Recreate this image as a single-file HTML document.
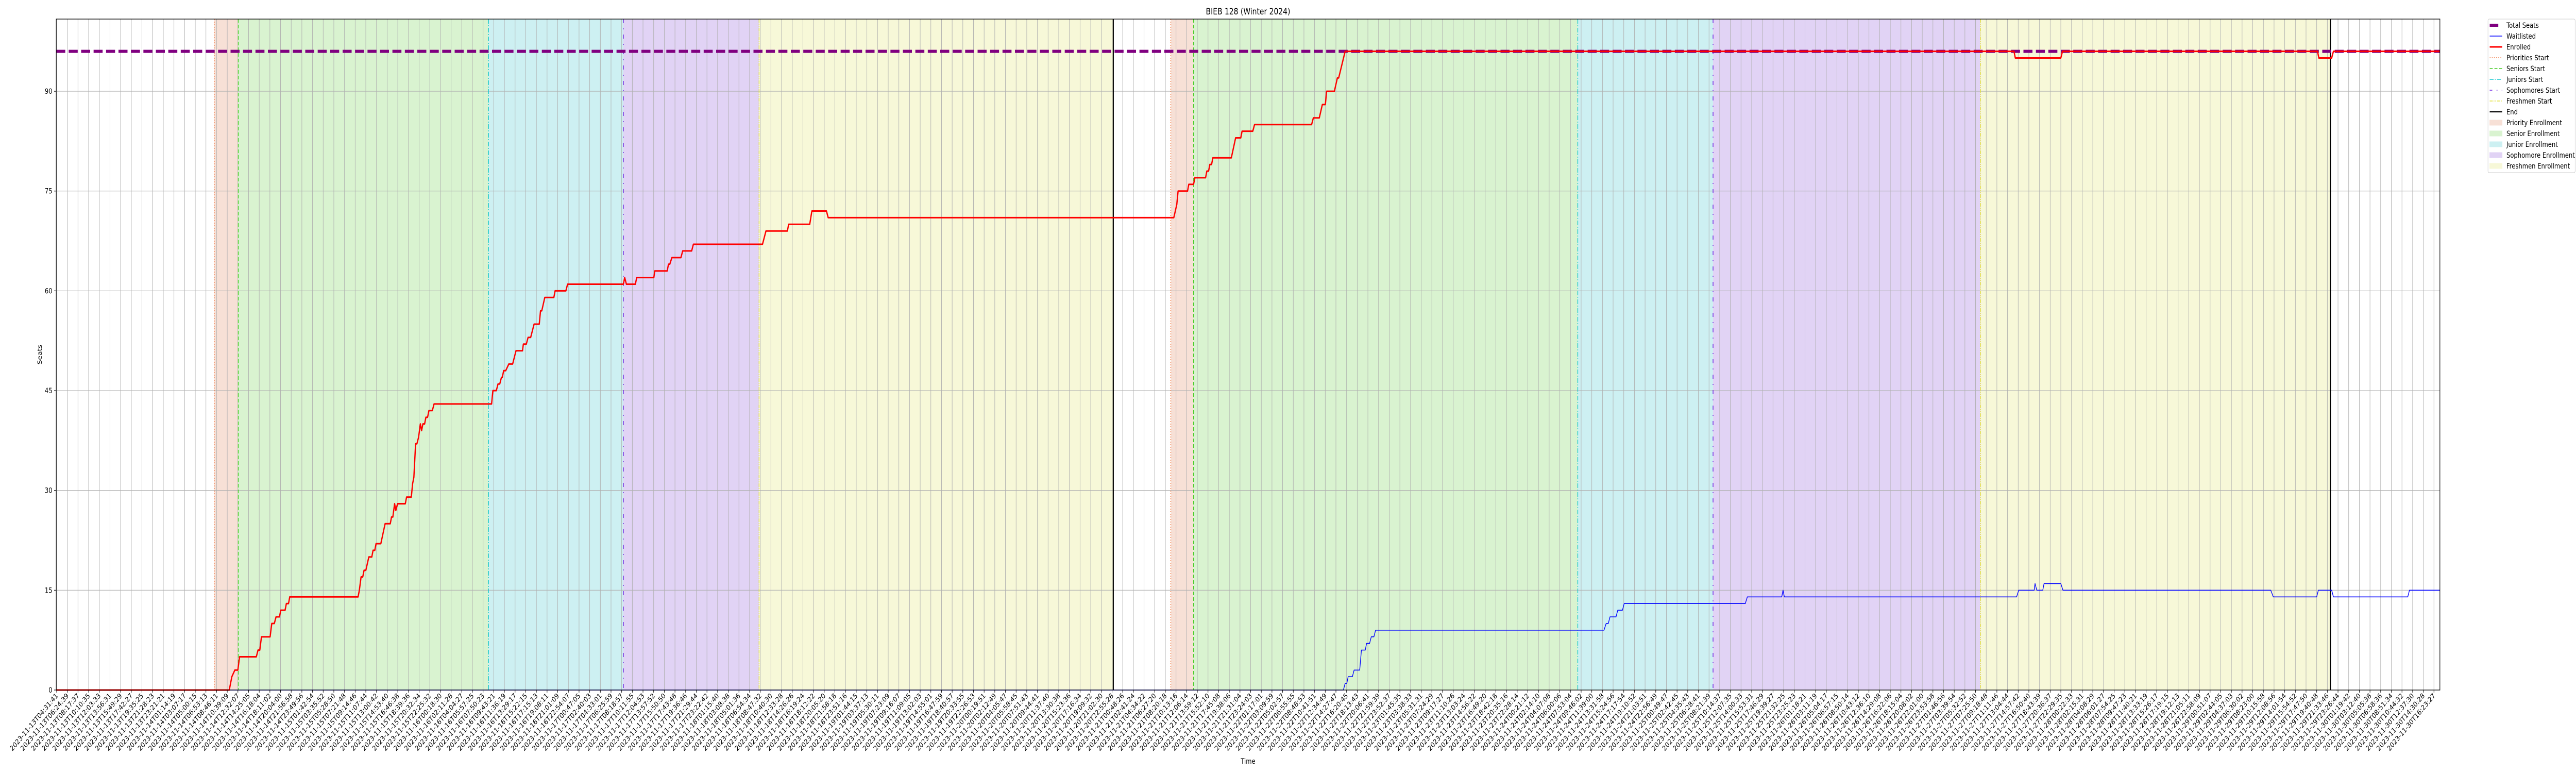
<!DOCTYPE html>
<html><head><meta charset="utf-8"><title>BIEB 128 (Winter 2024)</title>
<style>
html,body{margin:0;padding:0;background:#fff;width:100%;height:100%;overflow:hidden;}
svg{display:block;position:absolute;left:0;top:0;width:100vw;height:100vh;font-family:"DejaVu Sans","Liberation Sans",sans-serif;}
</style></head>
<body>
<svg id="chart" viewBox="0 0 6000 1500" preserveAspectRatio="none" xmlns="http://www.w3.org/2000/svg" overflow="hidden">
<rect x="0" y="0" width="6000" height="1500" fill="#fff"/>
<text x="2907" y="28" font-size="16.7" text-anchor="middle" fill="#000">BIEB 128 (Winter 2024)</text>
<g id="spans"></g>
<g id="grid"></g>
<g id="vlines"></g>
<g id="series"></g>
<rect x="131" y="37" width="5552" height="1302" fill="none" stroke="#000" stroke-width="1.3"/>
<g id="yaxis"></g>
<g id="xaxis"></g>
<text transform="translate(97,688) rotate(-90)" font-size="13.9" text-anchor="middle">Seats</text>
<text x="2907" y="1482" font-size="13.9" text-anchor="middle">Time</text>
<g id="legend"></g>
</svg>
<script>
// ---- data (time in hours since 2023-11-13T04:31:41) ----
const enrolledTimes = [-0.08,30.48,30.94,31.47,32.0,32.3,35.26,35.56,35.87,36.17,37.69,37.99,38.44,38.75,39.35,39.58,40.34,40.57,40.95,41.17,53.23,53.46,53.76,54.06,54.29,54.6,55.13,55.66,55.88,56.19,56.41,57.25,58.01,58.92,59.14,59.37,59.68,59.9,60.21,61.57,61.8,62.63,62.86,63.09,63.39,63.62,63.92,64.23,64.45,64.68,64.98,65.21,65.51,65.74,66.35,66.65,76.81,77.04,77.65,77.95,78.25,78.56,78.71,78.94,79.31,79.85,80.53,81.13,82.27,82.42,82.95,83.26,83.71,84.32,85.23,85.46,85.68,86.21,87.81,88.03,89.93,90.23,100.09,100.32,100.62,102.21,102.44,105.47,105.63,107.83,108.05,108.28,108.66,110.25,110.56,112.15,112.45,124.66,125.27,129.06,129.28,133.0,133.38,135.96,136.26,197.3,197.83,198.06,199.73,199.95,200.79,201.02,202.91,203.14,203.44,203.67,203.97,204.2,207.46,208.22,209.13,209.36,211.25,211.56,221.64,221.95,223.0,223.54,224.07,224.29,225.66,226.19,226.42,227.56,345.69,345.92,353.96,354.26,399.3,399.53,401.8,402.11,420.91];
const enrolledValues = [0,0,2,3,3,5,5,6,6,8,8,10,10,11,11,12,12,13,13,14,14,15,17,17,18,18,20,20,21,21,22,22,25,25,26,26,28,27,28,28,29,29,31,32,37,37,38,40,39,40,40,41,41,42,42,43,43,45,45,46,46,47,47,48,48,49,49,51,51,52,52,53,53,55,55,57,57,59,59,60,60,61,61,62,61,61,62,62,63,63,64,64,65,65,66,66,67,67,69,69,70,70,72,72,71,71,73,75,75,76,76,77,77,78,78,79,79,80,80,83,83,84,84,85,85,86,86,88,88,90,90,92,92,96,96,95,95,96,96,95,95,96,96];
const waitTimes = [-0.08,227.25,227.56,227.86,228.09,228.84,229.15,230.13,230.44,231.12,231.35,231.88,232.18,232.64,232.94,273.28,273.66,274.04,274.34,275.4,275.71,276.54,276.84,298.23,298.6,304.67,304.9,305.13,346.15,346.53,349.26,349.41,349.71,350.77,351.0,353.96,354.34,391.04,391.49,399.15,399.45,401.8,402.11,415.23,415.54,420.91];
const waitValues = [0,0,1,1,2,2,3,3,6,6,7,7,8,8,9,9,10,10,11,11,12,12,13,13,14,14,15,14,14,15,15,16,15,15,16,16,15,15,14,14,15,15,14,14,15,15];
const totalSeats = 96;
const phaseNames = ["Priorities Start","Seniors Start","Juniors Start","Sophomores Start","Freshmen Start","End"];
const cycle1Times = [27.83,32.07,76.28,100.09,124.05,186.61];
const cycle2Times = [196.77,200.79,268.65,292.54,339.78,401.58];
const yTicks = [0,15,30,45,60,75,90];
const tickCount = 224;
const tickStart = "2023-11-13T04:31:41";
const tickEnd = "2023-11-30T16:23:27";

// ---- scales ----
const X0=132, PXH=13.188, Y0=1339, PXV=12.91;
function xs(h){return X0+h*PXH;}
function ys(v){return Y0-v*PXV;}
const NS="http://www.w3.org/2000/svg";
function mk(tag,parent,attrs){const e=document.createElementNS(NS,tag);for(const k in attrs)e.setAttribute(k,attrs[k]);parent.appendChild(e);return e;}

// spans
const spanColors=["#f7e0d6","#d9f3d0","#cdf0f2","#e1d3f5","#f7f8d8"];
const spanNames=["priority-enrollment","senior-enrollment","junior-enrollment","sophomore-enrollment","freshmen-enrollment"];
const spansG=document.getElementById('spans');
[cycle1Times,cycle2Times].forEach((ct,ci)=>{
  for(let i=0;i<5;i++){
    const r=mk('rect',spansG,{x:xs(ct[i]),y:37,width:xs(ct[i+1])-xs(ct[i]),height:1302,fill:spanColors[i]});
    
    
  }
});

// ticks & grid
const gridG=document.getElementById('grid'), xaxisG=document.getElementById('xaxis'), yaxisG=document.getElementById('yaxis');
const tA=Date.parse(tickStart+"Z"), tB=Date.parse(tickEnd+"Z");
function pad(n){return String(n).padStart(2,'0');}
for(let i=0;i<tickCount;i++){
  const ms=tA+(tB-tA)*i/(tickCount-1);
  const d=new Date(ms);
  const lab=d.getUTCFullYear()+"-"+pad(d.getUTCMonth()+1)+"-"+pad(d.getUTCDate())+"T"+pad(d.getUTCHours())+":"+pad(d.getUTCMinutes())+":"+pad(d.getUTCSeconds());
  const x=xs((ms-tA)/3600000);
  const gl=mk('line',gridG,{x1:x,y1:37,x2:x,y2:1339,stroke:"#b0b0b0","stroke-width":1.1});
  
  
  mk('line',xaxisG,{x1:x,y1:1339,x2:x,y2:1344,stroke:"#000","stroke-width":1.1});
  const t=mk('text',xaxisG,{transform:`translate(${x+4},${1351}) rotate(-45)`,"font-size":13.9,"text-anchor":"end"});
  t.textContent=lab;
  
  
}
yTicks.forEach(v=>{
  const y=ys(v);
  const gl=mk('line',gridG,{x1:131,y1:y,x2:5683,y2:y,stroke:"#b0b0b0","stroke-width":1.1});
  
  
  mk('line',yaxisG,{x1:126,y1:y,x2:131,y2:y,stroke:"#000","stroke-width":1.1});
  const t=mk('text',yaxisG,{x:122,y:y+5,"font-size":13.9,"text-anchor":"end"});
  t.textContent=String(v);
  
  
});

// phase lines
const lineStyles=[
 {c:"#f0743e",d:"2,3",w:1.6},
 {c:"#44cc22",d:"7,4",w:1.6},
 {c:"#1ac8d0",d:"9,3,2,3",w:1.6},
 {c:"#6a1ee0",d:"8,10,2,10",w:1.6},
 {c:"#e2e23a",d:"7,2,2,2,2,2",w:1.6},
 {c:"#000",d:"",w:2.6}
];
const vG=document.getElementById('vlines');
[cycle1Times,cycle2Times].forEach(ct=>{
  ct.forEach((h,i)=>{
    const s=lineStyles[i];
    const l=mk('line',vG,{x1:xs(h),y1:37,x2:xs(h),y2:1339,stroke:s.c,"stroke-width":s.w});
    if(s.d)l.setAttribute('stroke-dasharray',s.d);
    
    
  });
});

// series
const sG=document.getElementById('series');
const ts=mk('line',sG,{x1:131,y1:ys(totalSeats),x2:5683,y2:ys(totalSeats),stroke:"#800080","stroke-width":6,"stroke-dasharray":"21,8"});


function poly(times,vals,color,w,name){
  const pts=times.map((t,i)=>xs(t).toFixed(1)+","+ys(vals[i]).toFixed(1)).join(" ");
  const p=mk('polyline',sG,{points:pts,fill:"none",stroke:color,"stroke-width":w,"stroke-linejoin":"round"});
  
  
}
poly(waitTimes,waitValues,"#0000ff",1.6,"waitlisted-line");
poly(enrolledTimes,enrolledValues,"#ff0000",3,"enrolled-line");

// legend
const lg=document.getElementById('legend');
mk('rect',lg,{x:5795,y:37,width:203,height:298,rx:3,fill:"#fff",stroke:"#cccccc","stroke-width":1});
const legItems=[
 {n:"Total Seats",t:"line",c:"#800080",w:6,d:""},
 {n:"Waitlisted",t:"line",c:"#0000ff",w:1.6,d:""},
 {n:"Enrolled",t:"line",c:"#ff0000",w:3,d:""},
 {n:"Priorities Start",t:"line",c:"#f0743e",w:1.6,d:"2,3"},
 {n:"Seniors Start",t:"line",c:"#44cc22",w:1.6,d:"7,4"},
 {n:"Juniors Start",t:"line",c:"#1ac8d0",w:1.6,d:"9,3,2,3"},
 {n:"Sophomores Start",t:"line",c:"#6a1ee0",w:1.6,d:"6,10,2,10"},
 {n:"Freshmen Start",t:"line",c:"#e2e23a",w:1.6,d:"7,2,2,2,2,2"},
 {n:"End",t:"line",c:"#000",w:2.2,d:""},
 {n:"Priority Enrollment",t:"patch",c:"#f7e0d6"},
 {n:"Senior Enrollment",t:"patch",c:"#d9f3d0"},
 {n:"Junior Enrollment",t:"patch",c:"#cdf0f2"},
 {n:"Sophomore Enrollment",t:"patch",c:"#e1d3f5"},
 {n:"Freshmen Enrollment",t:"patch",c:"#f7f8d8"}
];
legItems.forEach((it,i)=>{
  const y=49+i*21;
  const g=mk('g',lg,{});
  
  
  if(it.t==="line"){
    const x2=(i===0)?5819:5828;
    const l=mk('line',g,{x1:5799,y1:y,x2:x2,y2:y,stroke:it.c,"stroke-width":it.w});
    if(it.d)l.setAttribute('stroke-dasharray',it.d);
  }else{
    mk('rect',g,{x:5799,y:y-5,width:29,height:10,fill:it.c,stroke:it.c});
  }
  const t=mk('text',g,{x:5838,y:y+5,"font-size":13.9});
  t.textContent=it.n;
});
</script>
</body></html>
